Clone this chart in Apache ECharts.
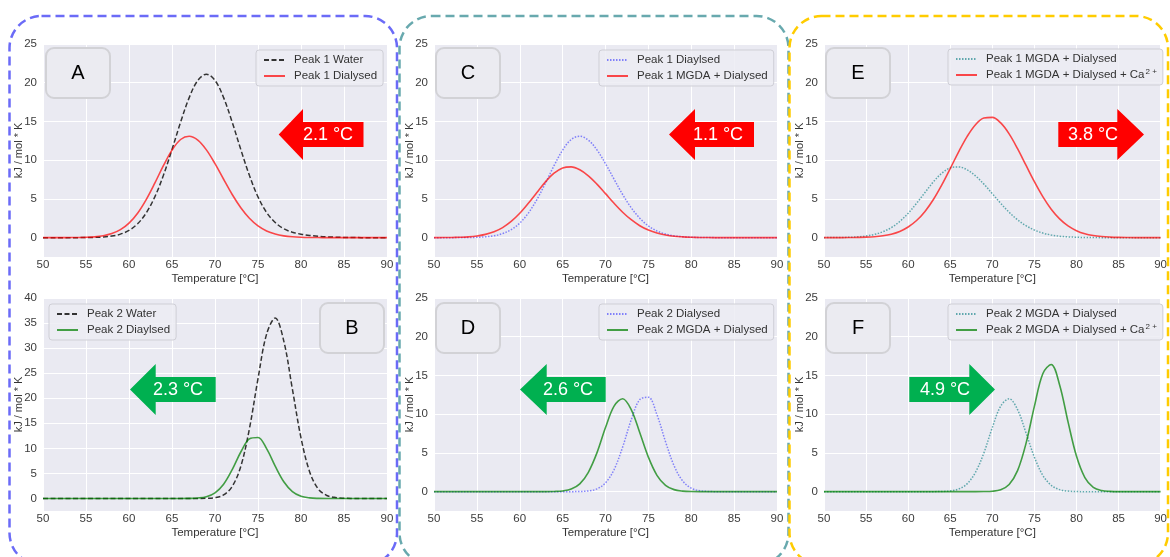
<!DOCTYPE html>
<html>
<head>
<meta charset="utf-8">
<script src="https://cdn.jsdelivr.net/npm/echarts@6/dist/echarts.min.js"></script>
<style>
  html, body { margin: 0; padding: 0; background: #ffffff; }
  #chart { width: 1170px; height: 557px; }
</style>
</head>
<body>
<div id="chart"></div>
<script>
// Temperature grid (°C) shared by every curve
const temps = [50, 51, 52, 53, 54, 55, 56, 57, 58, 59,
               60, 61, 62, 63, 64, 65, 66, 67, 68, 69,
               70, 71, 72, 73, 74, 75, 76, 77, 78, 79,
               80, 81, 82, 83, 84, 85, 86, 87, 88, 89, 90];

// Excess heat capacity, kJ / mol * K
const peak1Water = [0, 0, 0, 0, 0, 0.01, 0.03, 0.08, 0.2, 0.45,
                    0.93, 1.79, 3.19, 5.26, 8.04, 11.38, 14.91, 18.08, 20.3, 21.1,
                    20.3, 18.08, 14.91, 11.38, 8.04, 5.26, 3.25, 1.95, 1.15, 0.7,
                    0.45, 0.28, 0.17, 0.1, 0.06, 0.03, 0.01, 0, 0, 0, 0];
const peak1Dialysed = [0, 0, 0, 0.01, 0.02, 0.04, 0.1, 0.24, 0.52, 1.03,
                       1.88, 3.16, 4.92, 7.04, 9.29, 11.3, 12.67, 13.09, 12.59, 11.33,
                       9.55, 7.54, 5.57, 3.86, 2.5, 1.51, 0.86, 0.46, 0.23, 0.11,
                       0.05, 0.02, 0.01, 0, 0, 0, 0, 0, 0, 0, 0];
const peak2Water = [0, 0, 0, 0, 0, 0, 0, 0, 0, 0,
                    0, 0, 0, 0, 0, 0, 0, 0, 0, 0.03,
                    0.16, 0.7, 2.4, 6.4, 13.9, 23.9, 32.8, 36.0, 31.4, 21.8,
                    12.1, 5.35, 1.9, 0.6, 0.18, 0.05, 0.01, 0, 0, 0, 0];
const peak2Dialysed = [0, 0, 0, 0, 0, 0, 0, 0, 0, 0,
                       0, 0, 0, 0, 0, 0, 0, 0.02, 0.09, 0.35,
                       1.13, 2.85, 5.76, 9.27, 11.9, 12.18, 9.93, 6.45, 3.34, 1.38,
                       0.45, 0.12, 0.02, 0, 0, 0, 0, 0, 0, 0, 0];
const peak1Mgda = [0, 0.01, 0.02, 0.05, 0.1, 0.21, 0.42, 0.76, 1.3, 2.09,
                   3.14, 4.43, 5.83, 7.2, 8.32, 9.0, 9.13, 8.76, 7.98, 6.91,
                   5.68, 4.43, 3.28, 2.31, 1.54, 0.98, 0.59, 0.34, 0.18, 0.1,
                   0.05, 0.02, 0.01, 0, 0, 0, 0, 0, 0, 0, 0];
const peak2Mgda = [0, 0, 0, 0, 0, 0, 0, 0, 0, 0,
                   0, 0, 0, 0, 0.02, 0.09, 0.33, 1.0, 2.5, 5.0,
                   8.27, 11.04, 11.99, 10.59, 7.6, 4.45, 2.11, 0.82, 0.26, 0.07,
                   0.01, 0, 0, 0, 0, 0, 0, 0, 0, 0, 0];
const peak1MgdaCa = [0, 0, 0, 0.01, 0.03, 0.06, 0.12, 0.24, 0.45, 0.8,
                     1.37, 2.21, 3.39, 4.93, 6.81, 8.92, 11.08, 13.05, 14.58, 15.45,
                     15.53, 14.81, 13.4, 11.49, 9.35, 7.22, 5.29, 3.67, 2.42, 1.51,
                     0.9, 0.5, 0.27, 0.14, 0.07, 0.03, 0.01, 0, 0, 0, 0];
const peak2MgdaCa = [0, 0, 0, 0, 0, 0, 0, 0, 0, 0,
                     0, 0, 0, 0, 0, 0, 0, 0, 0, 0.01,
                     0.05, 0.25, 0.93, 2.71, 6.2, 11.0, 15.23, 16.42, 13.78, 9.01,
                     4.59, 1.82, 0.56, 0.14, 0.03, 0, 0, 0, 0, 0, 0];

// Axis ticks
const yTicks25 = [0, 5, 10, 15, 20, 25];
const yTicks40 = [0, 5, 10, 15, 20, 25, 30, 35, 40];

// Panel texts
const panelLetters = ['A', 'B', 'C', 'D', 'E', 'F'];
const shiftLabels = ['2.1 °C', '2.3 °C', '1.1 °C', '2.6 °C', '3.8 °C', '4.9 °C'];

const FONT = '"Liberation Sans", Arial, Helvetica, sans-serif';
const RED_ARROW = '#ff0000';
const GREEN_ARROW = '#00b050';

const LINE = {
  dash:  { color: '#333333', type: [5, 2.5], width: 1.5 },
  red:   { color: 'rgba(255,0,0,0.7)', type: 'solid', width: 1.6 },
  green: { color: 'rgba(0,128,0,0.72)', type: 'solid', width: 1.6 },
  blue:  { color: 'rgba(40,40,255,0.55)', type: [1.5, 1.5], width: 1.5 },
  teal:  { color: 'rgba(80,160,165,0.9)', type: [1.5, 1.5], width: 1.5 }
};

// Layout of the six panels
const panels = [
  { grid: { left: 43, top: 44, width: 344, height: 213 }, yMax: 25, yTicks: yTicks25,
    curves: [ { label: 'Peak 1 Water', values: peak1Water, line: 'dash' },
              { label: 'Peak 1 Dialysed', values: peak1Dialysed, line: 'red' } ],
    legend: { left: 256, top: 50 }, tag: { x: 46, y: 48 },
    arrow: { color: RED_ARROW, tip: 278.7, head: 303, end: 363.5, cy: 134.5, tx: 328 } },
  { grid: { left: 43, top: 298, width: 344, height: 213 }, yMax: 40, yTicks: yTicks40,
    curves: [ { label: 'Peak 2 Water', values: peak2Water, line: 'dash' },
              { label: 'Peak 2 Diaylsed', values: peak2Dialysed, line: 'green' } ],
    legend: { left: 49, top: 304 }, tag: { x: 320, y: 303 },
    arrow: { color: GREEN_ARROW, tip: 130, head: 155.7, end: 215.7, cy: 389.5, tx: 178 } },
  { grid: { left: 434, top: 44, width: 343, height: 213 }, yMax: 25, yTicks: yTicks25,
    curves: [ { label: 'Peak 1 Diaylsed', values: peak1Dialysed, line: 'blue' },
              { label: 'Peak 1 MGDA + Dialysed', values: peak1Mgda, line: 'red' } ],
    legend: { left: 599, top: 50 }, tag: { x: 436, y: 48 },
    arrow: { color: RED_ARROW, tip: 669, head: 695, end: 754, cy: 134.5, tx: 718 } },
  { grid: { left: 434, top: 298, width: 343, height: 213 }, yMax: 25, yTicks: yTicks25,
    curves: [ { label: 'Peak 2 Dialysed', values: peak2Dialysed, line: 'blue' },
              { label: 'Peak 2 MGDA + Dialysed', values: peak2Mgda, line: 'green' } ],
    legend: { left: 599, top: 304 }, tag: { x: 436, y: 303 },
    arrow: { color: GREEN_ARROW, tip: 520, head: 546.7, end: 605.7, cy: 389.5, tx: 568 } },
  { grid: { left: 824, top: 44, width: 343, height: 213 }, yMax: 25, yTicks: yTicks25,
    curves: [ { label: 'Peak 1 MGDA + Dialysed', values: peak1Mgda, line: 'teal' },
              { label: 'Peak 1 MGDA + Dialysed + Ca{sup|2 +}', values: peak1MgdaCa, line: 'red' } ],
    legend: { left: 948, top: 49 }, tag: { x: 826, y: 48 },
    arrow: { color: RED_ARROW, tip: 1144, head: 1117.3, end: 1058.3, cy: 134.5, tx: 1093 } },
  { grid: { left: 824, top: 298, width: 343, height: 213 }, yMax: 25, yTicks: yTicks25,
    curves: [ { label: 'Peak 2 MGDA + Dialysed', values: peak2Mgda, line: 'teal' },
              { label: 'Peak 2 MGDA + Dialysed + Ca{sup|2 +}', values: peak2MgdaCa, line: 'green' } ],
    legend: { left: 948, top: 304 }, tag: { x: 826, y: 303 },
    arrow: { color: GREEN_ARROW, tip: 995, head: 969.3, end: 909.3, cy: 389.5, tx: 945 } }
];

const toPairs = vals => temps.map((t, i) => [t, vals[i]]);

const grids = [], xAxes = [], yAxes = [], series = [], legends = [], graphics = [];

panels.forEach((p, i) => {
  grids.push(Object.assign({ show: true, backgroundColor: '#eaeaf2', borderWidth: 0 }, p.grid));

  xAxes.push({
    gridIndex: i, type: 'value', min: 50, max: 90, interval: 5,
    axisLine: { show: false }, axisTick: { show: false },
    axisLabel: { color: '#3c3c3c', fontSize: 11.5, margin: 2, fontFamily: FONT },
    splitLine: { lineStyle: { color: '#ffffff', width: 1 } },
    name: 'Temperature [°C]', nameLocation: 'middle', nameGap: 16, nameMoveOverlap: false,
    nameTextStyle: { color: '#333333', fontSize: 11.5, fontFamily: FONT }
  });

  yAxes.push({
    gridIndex: i, type: 'value', min: -2.5, max: p.yMax,
    axisLine: { show: false },
    axisTick: { show: false, customValues: p.yTicks },
    axisLabel: { customValues: p.yTicks, color: '#3c3c3c', fontSize: 11.5, margin: 6, fontFamily: FONT },
    splitLine: { lineStyle: { color: '#ffffff', width: 1 } },
    name: 'kJ / mol * K', nameLocation: 'middle', nameGap: 19, nameMoveOverlap: false,
    nameTextStyle: { color: '#333333', fontSize: 11, fontFamily: FONT }
  });

  const names = [];
  const labelOf = {};
  p.curves.forEach((c, k) => {
    const name = panelLetters[i] + '-' + k;
    names.push(name);
    labelOf[name] = c.label;
    const ls = LINE[c.line];
    series.push({
      type: 'line', name: name, xAxisIndex: i, yAxisIndex: i,
      data: toPairs(c.values),
      smooth: 0.35, symbol: 'none', showSymbol: false,
      itemStyle: { color: ls.color },
      lineStyle: { color: ls.color, type: ls.type, width: ls.width },
      z: 2 + k, silent: true
    });
  });

  legends.push({
    orient: 'vertical', left: p.legend.left, top: p.legend.top,
    data: names, selectedMode: false,
    formatter: n => labelOf[n],
    itemWidth: 21, itemHeight: 10, itemGap: 2,
    itemStyle: { opacity: 0 },
    padding: [3, 6, 3, 7],
    backgroundColor: 'rgba(236,236,243,0.85)', borderColor: '#cfcfd6', borderWidth: 1, borderRadius: 3,
    textStyle: {
      color: '#333333', fontSize: 11.5, fontFamily: FONT, lineHeight: 14, padding: [0, 0, 0, 4],
      rich: { sup: { fontSize: 8, fontFamily: FONT, color: '#333333', verticalAlign: 'top', padding: [0, 0, 5, 1] } }
    }
  });

  // panel letter tag
  graphics.push({
    type: 'rect', z: 20,
    shape: { x: p.tag.x, y: p.tag.y, width: 64, height: 50, r: 8 },
    style: { fill: '#ebebf1', stroke: '#d2d2d6', lineWidth: 2 }
  });
  graphics.push({
    type: 'text', z: 21, x: p.tag.x + 32, y: p.tag.y + 25.5,
    style: { text: panelLetters[i], fill: '#000000', font: '20px ' + FONT, align: 'center', verticalAlign: 'middle' }
  });

  // shift arrow with its label
  const a = p.arrow, hh = 25.5, hb = 12.5;
  graphics.push({
    type: 'polygon', z: 20,
    shape: { points: [[a.tip, a.cy], [a.head, a.cy - hh], [a.head, a.cy - hb], [a.end, a.cy - hb],
                      [a.end, a.cy + hb], [a.head, a.cy + hb], [a.head, a.cy + hh]] },
    style: { fill: a.color }
  });
  graphics.push({
    type: 'text', z: 21, x: a.tx, y: a.cy + 1,
    style: { text: shiftLabels[i], fill: '#ffffff', font: '18px ' + FONT, align: 'center', verticalAlign: 'middle' }
  });
});

// dashed frames grouping the columns
const frames = [
  { x: 9.5, w: 387.5, color: '#6b6bf7' },
  { x: 399.5, w: 389, color: '#68a9ae' },
  { x: 789.5, w: 378.5, color: '#ffcc00' }
];
frames.forEach(f => {
  graphics.push({
    type: 'rect', z: 1,
    shape: { x: f.x, y: 16, width: f.w, height: 549, r: 32 },
    style: { fill: 'none', stroke: f.color, lineWidth: 2.5, lineDash: [9, 5] }
  });
});

const chart = echarts.init(document.getElementById('chart'), null, { renderer: 'canvas' });
chart.setOption({
  animation: false,
  backgroundColor: '#ffffff',
  grid: grids, xAxis: xAxes, yAxis: yAxes,
  legend: legends, series: series, graphic: graphics
});
</script>
</body>
</html>
